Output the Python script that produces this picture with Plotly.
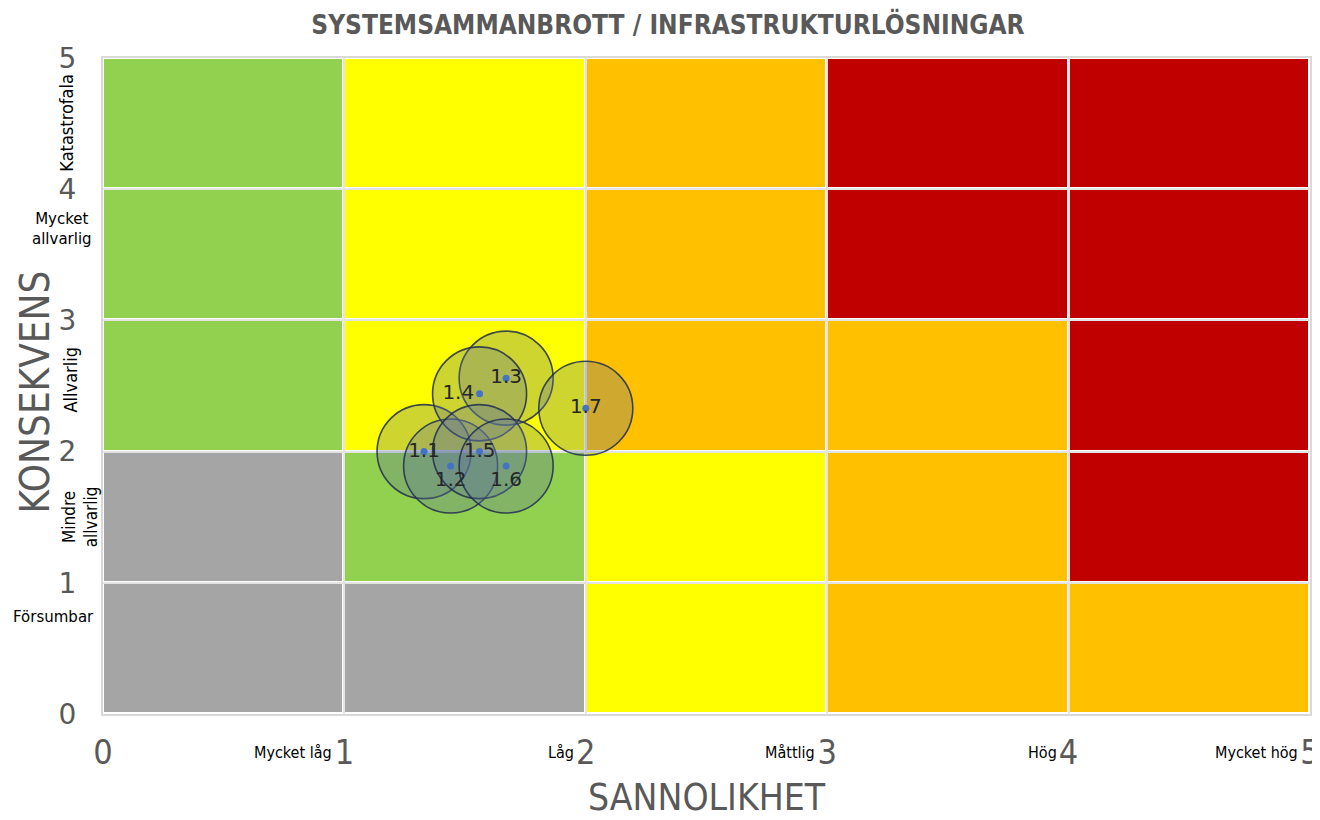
import plotly.graph_objects as go

# Risk matrix cells: rows = consequence level 0-1 .. 4-5, columns = probability 0-1 .. 4-5
# 0 grey, 1 green, 2 yellow, 3 orange, 4 red
CELL_X = [0.5, 1.5, 2.5, 3.5, 4.5]
CELL_Y = [0.5, 1.5, 2.5, 3.5, 4.5]
CELL_LEVEL = [
    [0, 0, 2, 3, 3],
    [0, 1, 2, 3, 4],
    [1, 2, 3, 3, 4],
    [1, 2, 3, 4, 4],
    [1, 2, 3, 4, 4],
]
LEVEL_COLORS = ["#A5A5A5", "#92D050", "#FFFF00", "#FFC000", "#C00000"]

# Risks
RISK_IDS = ["1.1", "1.2", "1.3", "1.4", "1.5", "1.6", "1.7"]
RISK_PROB = [1.33, 1.44, 1.67, 1.56, 1.56, 1.67, 2.0]
RISK_CONS = [2.0, 1.89, 2.56, 2.44, 2.0, 1.89, 2.33]
LABEL_POS = ["middle center", "bottom center", "middle center", "middle left",
             "middle center", "bottom center", "middle center"]

TICKS = [0, 1, 2, 3, 4, 5]
PROB_LABELS = ["Mycket låg", "Låg", "Måttlig", "Hög", "Mycket hög"]
CONS_LABELS = ["Försumbar", "Mindre<br>allvarlig", "Allvarlig", "Mycket<br>allvarlig", "Katastrofala"]
CONS_LABEL_Y = [0.74, 1.5, 2.55, 3.7, 4.5]

NARROW = "Liberation Sans Narrow, DejaVu Sans Condensed, Arial Narrow, sans-serif"
GREY = "#595959"

# discrete colorscale for levels 0..4
n = len(LEVEL_COLORS)
scale = []
for i, c in enumerate(LEVEL_COLORS):
    scale.append([max(0, (i - 0.5) / (n - 1)), c])
    scale.append([min(1, (i + 0.5) / (n - 1)), c])

fig = go.Figure()

fig.add_trace(go.Heatmap(
    x=CELL_X, y=CELL_Y, z=CELL_LEVEL,
    zmin=0, zmax=n - 1,
    colorscale=scale, showscale=False,
    xgap=3, ygap=3,
    hoverinfo="skip",
))

# bubbles
fig.add_trace(go.Scatter(
    x=RISK_PROB, y=RISK_CONS,
    mode="markers",
    marker=dict(size=94, color="rgba(95,115,155,0.3)",
                line=dict(color="rgba(31,45,80,0.85)", width=1.6)),
    showlegend=False,
    hoverinfo="skip",
))

# centre dots + labels
fig.add_trace(go.Scatter(
    x=RISK_PROB, y=RISK_CONS,
    mode="markers+text",
    text=RISK_IDS,
    textposition=LABEL_POS,
    textfont=dict(family="DejaVu Sans", size=20, color="#262626"),
    marker=dict(size=7, color="#4472C4"),
    showlegend=False,
    hovertemplate="%{text}<br>Sannolikhet: %{x}<br>Konsekvens: %{y}<extra></extra>",
))

annotations = []
for v, lab in zip(TICKS[1:], PROB_LABELS):
    annotations.append(dict(
        x=v, xref="x", y=-0.058, yref="paper", text=lab, showarrow=False,
        xanchor="right", yanchor="middle", xshift=-10,
        font=dict(family=NARROW, size=16, color="#000000"),
    ))

# consequence category labels (mixed orientation as in the original)
cons_style = [
    dict(x=-0.0414, textangle=0, font=dict(family="DejaVu Sans", size=15, color="#000000")),
    dict(x=-0.019, textangle=-90, font=dict(family=NARROW, size=17, color="#000000")),
    dict(x=-0.0273, textangle=-90, font=dict(family=NARROW, size=18, color="#000000")),
    dict(x=-0.034, textangle=0, font=dict(family="DejaVu Sans", size=15, color="#000000")),
    dict(x=-0.0298, textangle=-90, font=dict(family=NARROW, size=18, color="#000000")),
]
for lab, yv, st in zip(CONS_LABELS, CONS_LABEL_Y, cons_style):
    annotations.append(dict(
        xref="paper", y=yv, yref="y", text=lab, showarrow=False,
        xanchor="center", yanchor="middle", **st,
    ))

annotations.append(dict(
    x=-0.0563, xref="paper", y=0.49, yref="paper", text="KONSEKVENS",
    textangle=-90, showarrow=False, xanchor="center", yanchor="middle",
    font=dict(family=NARROW, size=40, color=GREY),
))
annotations.append(dict(
    x=0.5, xref="paper", y=-0.127, yref="paper", text="SANNOLIKHET",
    showarrow=False, xanchor="center", yanchor="middle",
    font=dict(family=NARROW, size=37, color=GREY),
))

# the page body adds an 8px offset, so the figure is 8px smaller than the window
fig.update_layout(
    width=1312, height=812,
    paper_bgcolor="white",
    plot_bgcolor="white",
    margin=dict(l=95, r=10, t=50, b=106, autoexpand=False),
    title=dict(
        text="<b>SYSTEMSAMMANBROTT / INFRASTRUKTURLÖSNINGAR</b>",
        x=0.503, xanchor="center", y=0.979, yanchor="middle",
        font=dict(family=NARROW, size=26, color=GREY),
    ),
    xaxis=dict(
        range=[0, 5], tickvals=TICKS, ticktext=[str(t) for t in TICKS],
        showgrid=True, gridcolor="#E4E4E4", gridwidth=2,
        zeroline=False, showline=True, linecolor="#D9D9D9", linewidth=2, mirror=True,
        ticks="", ticklabelstandoff=7, automargin=False,
        tickfont=dict(family=NARROW, size=34, color=GREY),
        fixedrange=True,
    ),
    yaxis=dict(
        range=[0, 5], tickvals=TICKS, ticktext=[str(t) for t in TICKS],
        showgrid=True, gridcolor="#E4E4E4", gridwidth=2,
        zeroline=False, showline=True, linecolor="#D9D9D9", linewidth=2, mirror=True,
        ticks="", ticklabelstandoff=19, automargin=False,
        tickfont=dict(family="DejaVu Sans", size=28, color=GREY),
        fixedrange=True,
    ),
    annotations=annotations,
)

fig.write_html("out.html")
